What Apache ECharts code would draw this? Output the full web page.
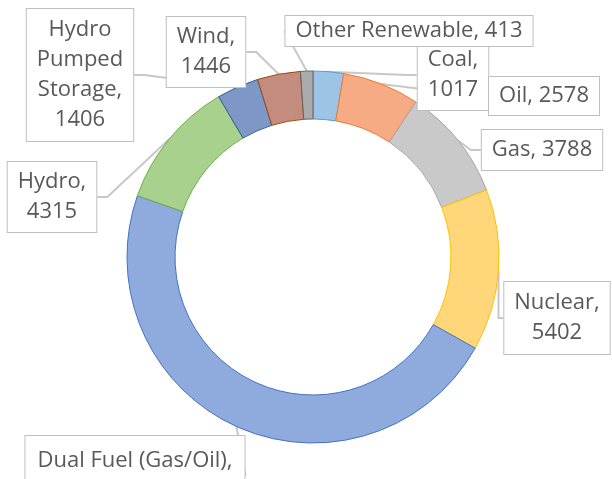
<!DOCTYPE html>
<html>
<head>
<meta charset="utf-8">
<script src="https://cdn.jsdelivr.net/npm/echarts@6/dist/echarts.min.js"></script>
<style>
html,body{margin:0;padding:0;background:#fff;}
#chart{width:612px;height:479px;}
</style>
</head>
<body>
<div id="chart"></div>
<script>
// ---- data ----
var categories = ["Coal", "Oil", "Gas", "Nuclear", "Dual Fuel (Gas/Oil)", "Hydro", "Hydro Pumped Storage", "Wind", "Other Renewable"];
var values = [1017, 2578, 3788, 5402, 18200, 4315, 1406, 1446, 413];

// ---- styles ----
var fillColors = ["#9DC3E6", "#F6AB85", "#C9C9C9", "#FFD77A", "#8FAADC", "#A9D18E", "#7D98C7", "#C38C7E", "#ABABAB"];
var edgeColors = ["#5B9BD5", "#ED7D31", "#A5A5A5", "#FFC000", "#4472C4", "#70AD47", "#2F5F98", "#9E480E", "#636363"];
// how each callout text wraps (display only)
var labelTexts = [
  "Coal,\n1017", "Oil, 2578", "Gas, 3788", "Nuclear,\n5402", "Dual Fuel (Gas/Oil),\n18200",
  "Hydro,\n4315", "Hydro\nPumped\nStorage,\n1406", "Wind,\n1446", "Other Renewable, 413"
];
// callout box centres and paddings (layout only)
var calloutCenters = [
  [453, 75], [544, 96], [542, 150], [557, 318], [135, 476],
  [52, 197], [80, 75], [206, 52], [409, 31]
];
var calloutPadding = [
  [5, 10], [4, 10], [5, 10], [6, 10], [10, 12],
  [5, 10], [6, 10], [5, 10], [0, 10]
];

var chart = echarts.init(document.getElementById('chart'), null, {renderer: 'canvas'});
var data = categories.map(function (c, i) {
  return {
    name: c,
    value: values[i],
    itemStyle: {color: fillColors[i], borderColor: edgeColors[i], borderWidth: 1},
    label: {padding: calloutPadding[i]}
  };
});

chart.setOption({
  animation: false,
  backgroundColor: '#ffffff',
  series: [{
    type: 'pie',
    center: [313, 257],
    radius: [138, 186],
    startAngle: 90,
    clockwise: true,
    avoidLabelOverlap: false,
    data: data,
    label: {
      show: true,
      position: 'outside',
      formatter: function (p) { return labelTexts[p.dataIndex]; },
      fontFamily: 'Open Sans',
      fontSize: 22,
      lineHeight: 30,
      color: '#595959',
      backgroundColor: '#ffffff',
      borderColor: '#BFBFBF',
      borderWidth: 1,
      align: 'center'
    },
    labelLine: {
      show: true,
      length: 10,
      length2: 10,
      lineStyle: {color: '#C8C8C8', width: 2}
    },
    labelLayout: function (p) {
      var c = calloutCenters[p.dataIndex];
      return {x: c[0], y: c[1], align: 'center', verticalAlign: 'middle'};
    },
    emphasis: {disabled: true}
  }]
});
</script>
</body>
</html>
